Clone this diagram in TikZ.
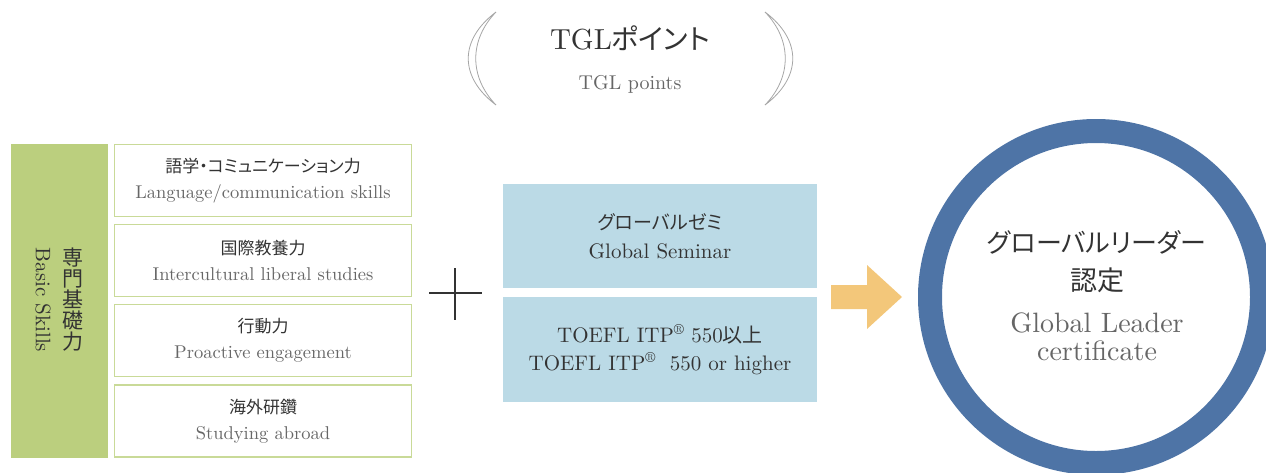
\documentclass[tikz,border=0pt]{standalone}
\usepackage{fontspec}
\setmainfont{lmroman10-regular.otf}
\newfontfamily\jp[RawFeature=+palt]{Noto Sans CJK JP}
\usetikzlibrary{positioning}
\definecolor{skillgreen}{HTML}{BBCF7E}
\definecolor{skillline}{HTML}{C9DA98}
\definecolor{seminarblue}{HTML}{BBDAE6}
\definecolor{arroworange}{HTML}{F3C77A}
\definecolor{ringblue}{HTML}{4E74A6}
\definecolor{textdark}{HTML}{333333}
\definecolor{textgray}{HTML}{666666}

\begin{document}
\begin{tikzpicture}[x=1pt,y=-1pt,
  skill/.style={draw=skillline, line width=1.5pt, minimum width=297pt, minimum height=72pt, inner sep=0pt, align=center, text=textdark, font=\fontsize{18.5}{20}\selectfont},
  extra/.style={fill=seminarblue, minimum width=314pt, inner sep=0pt, align=center, text=textdark, font=\fontsize{21}{22}\selectfont}]
\useasboundingbox (0,0) rectangle (1266,472);

% title
\draw[gray!70, line width=0.8pt] (496,12) .. controls (459,40) and (459,77) .. (496,105) .. controls (469,77) and (469,40) .. cycle;
\draw[gray!70, line width=0.8pt] (765,12) .. controls (802,40) and (802,77) .. (765,105) .. controls (792,77) and (792,40) .. cycle;
\node[text=textdark, font=\fontsize{29}{32}\selectfont] (tgl) at (630,38) {TGL{\jp\fontsize{28}{32}\selectfont ポイント}};
\node[text=textgray, font=\fontsize{20}{22}\selectfont] (tglen) at (630,84) {TGL points};

% basic skills
\node[fill=skillgreen, minimum width=97pt, minimum height=314pt, inner sep=0pt] (basic) at (59.5,301) {};
\node[text=textdark, align=center, font=\jp\fontsize{21}{21}\selectfont, inner sep=0pt] (basicjp) at (73,300) {専\\門\\基\\礎\\力};
\node[text=textdark, rotate=-90, font=\fontsize{21}{22}\selectfont] (basicen) at (43,300) {Basic Skills};

\begin{scope}[every node/.style={skill}]
	\node (lang) at (263,180.5) {{\jp\fontsize{17}{20}\selectfont 語学・コミュニケーション力}\\[6pt]{\color{textgray}Language/communication skills}};
	\node (inter) at (263,260.5) {{\jp\fontsize{17}{20}\selectfont 国際教養力}\\[6pt]{\color{textgray}Intercultural liberal studies}};
	\node (action) at (263,340.5) {{\jp\fontsize{17}{20}\selectfont 行動力}\\[6pt]{\color{textgray}Proactive engagement}};
	\node (abroad) at (263,421) {{\jp\fontsize{17}{20}\selectfont 海外研鑽}\\[6pt]{\color{textgray}Studying abroad}};
\end{scope}

% plus
\draw[line width=1.6pt, textdark] (429,293) -- (482,293);
\draw[line width=1.6pt, textdark] (455,268) -- (455,320);

\begin{scope}[every node/.style={extra}]
	\node[minimum height=104pt] (seminar) at (660,236) {{\jp\fontsize{19}{22}\selectfont グローバルゼミ}\\[7pt]Global Seminar};
	\node[minimum height=105pt] (toefl) at (660,349.5) {TOEFL ITP\textsuperscript{\textregistered} 550{\jp\fontsize{20}{22}\selectfont 以上}\\[6pt]TOEFL ITP\textsuperscript{\textregistered}\ \ 550 or higher};
\end{scope}

% arrow
\fill[arroworange] (831,285) -- (867,285) -- (867,265) -- (902,297) -- (867,329) -- (867,309) -- (831,309) -- cycle;

% certificate
\node[circle, draw=ringblue, line width=24pt, minimum size=332pt] (leader) at (1096,297) {};
\node[align=center, text=textdark, font=\fontsize{26}{26}\selectfont] (leadertext) at (1097,296) {{\jp\fontsize{26}{26}\selectfont グローバルリーダー}\\[12pt]{\jp\fontsize{27}{26}\selectfont 認定}\\[16pt]{\color{textgray}\fontsize{28}{26}\selectfont Global Leader}\\[2pt]{\color{textgray}\fontsize{28}{26}\selectfont certificate}};
\end{tikzpicture}
\end{document}
